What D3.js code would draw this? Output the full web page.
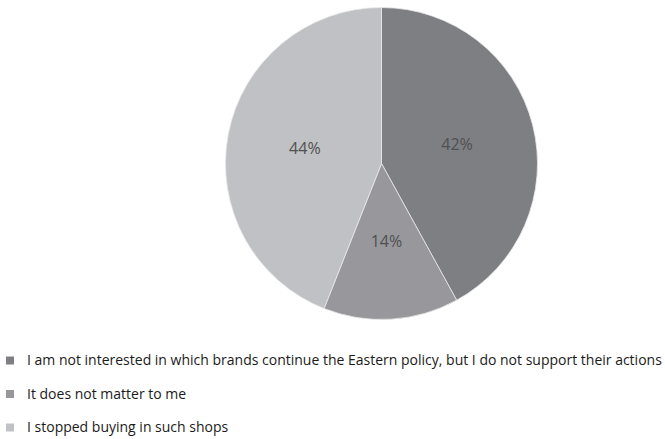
<!DOCTYPE html>
<html>
<head>
<meta charset="utf-8">
<script src="https://cdn.jsdelivr.net/npm/d3@7"></script>
<style>
  body { margin: 0; background: #fff; }
</style>
</head>
<body>
<div id="chart"></div>
<script>
// answers and their shares (%)
const categories = [
  'I am not interested in which brands continue the Eastern policy, but I do not support their actions',
  'It does not matter to me',
  'I stopped buying in such shops'
];
const shares = [42, 14, 44];
const colors = ['#7e7f83', '#98989c', '#c0c1c4'];

const width = 665;
const height = 439;
const cx = 381.5;
const cy = 163.5;
const radius = 156;

const svg = d3.select('#chart')
  .append('svg')
  .attr('width', width)
  .attr('height', height);

const pie = d3.pie().sort(null).value(d => d);
const arc = d3.arc().innerRadius(0).outerRadius(radius);

const g = svg.append('g')
  .attr('transform', 'translate(' + cx + ',' + cy + ')');

const slices = pie(shares);

g.selectAll('path')
  .data(slices)
  .enter()
  .append('path')
  .attr('d', arc)
  .attr('fill', (d, i) => colors[i])
  .attr('stroke', '#e8e8e8')
  .attr('stroke-width', 0.8);

g.selectAll('text')
  .data(slices)
  .enter()
  .append('text')
  .attr('transform', d => 'translate(' + arc.centroid(d) + ')')
  .attr('text-anchor', 'middle')
  .attr('dy', '0.35em')
  .attr('fill', '#505050')
  .style('font-family', 'Open Sans')
  .style('font-size', '16px')
  .text(d => d.value + '%');

// legend
const legendY = d3.scalePoint()
  .domain(d3.range(categories.length))
  .range([360.5, 427.5]);

const legend = svg.append('g');

legend.selectAll('rect')
  .data(categories)
  .enter()
  .append('rect')
  .attr('x', 6)
  .attr('y', (d, i) => legendY(i) - 4)
  .attr('width', 8)
  .attr('height', 8)
  .attr('fill', (d, i) => colors[i]);

legend.selectAll('text')
  .data(categories)
  .enter()
  .append('text')
  .attr('x', 27)
  .attr('y', (d, i) => legendY(i))
  .attr('dy', '0.35em')
  .attr('fill', '#1a1a1a')
  .style('font-family', 'Open Sans')
  .style('font-size', '14px')
  .text(d => d);
</script>
</body>
</html>
